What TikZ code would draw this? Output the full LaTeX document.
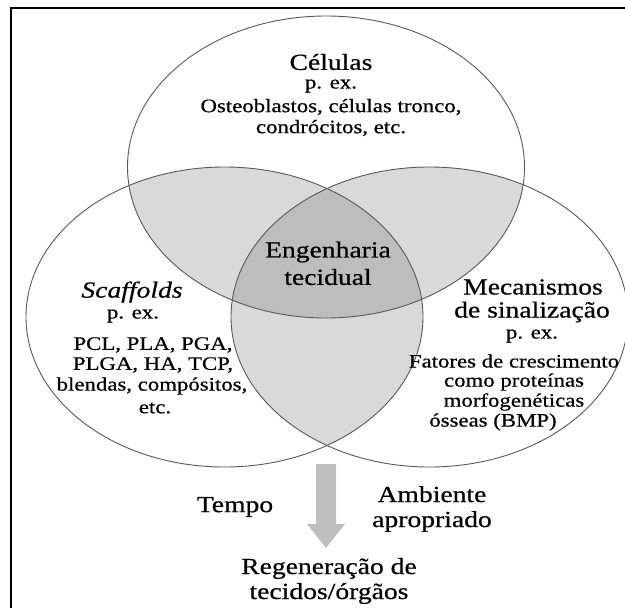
\documentclass[tikz,border=0pt]{standalone}
\usepackage{fontspec}
\setmainfont{Liberation Serif}[FakeStretch=1.2,FakeBold=0.6]
\begin{document}
\begin{tikzpicture}[x=1pt,y=-1pt,
  venn/.style={draw=black!65,line width=0.9pt},
  small/.style={font=\fontsize{19}{21}\selectfont,inner sep=0pt,align=center},
  big/.style={font=\fontsize{23}{25}\selectfont,inner sep=0pt,align=center},
  light/.style={fill=black!15},
  dark/.style={fill=black!26}]
\useasboundingbox (0,0) rectangle (625,608);
\fill[white] (0,0) rectangle (625,608);
% frame (top and left edges)
\draw[line width=1.5pt] (11,608) -- (11,8) -- (625,8);
% Venn fills
\begin{scope}
  \clip (326,167) ellipse [x radius=198.5, y radius=151];
  \fill[light] (224.5,317) ellipse [x radius=198.5, y radius=150];
  \fill[light] (429.5,317) ellipse [x radius=198.5, y radius=150];
\end{scope}
\begin{scope}
  \clip (224.5,317) ellipse [x radius=198.5, y radius=150];
  \fill[light] (429.5,317) ellipse [x radius=198.5, y radius=150];
\end{scope}
\begin{scope}
  \clip (326,167) ellipse [x radius=198.5, y radius=151];
  \clip (224.5,317) ellipse [x radius=198.5, y radius=150];
  \fill[dark] (429.5,317) ellipse [x radius=198.5, y radius=150];
\end{scope}
% Venn outlines
\draw[venn] (326,167) ellipse [x radius=198.5, y radius=151];
\draw[venn] (224.5,317) ellipse [x radius=198.5, y radius=150];
\draw[venn] (429.5,317) ellipse [x radius=198.5, y radius=150];
% top set
\node[big]   (cel)  at (331,62)  {Células};
\node[small] (cpex) at (331,86)  {p. ex.};
\node[small] (cl1)  at (331,107) {Osteoblastos, células tronco,};
\node[small] (cl2)  at (331,128) {condrócitos, etc.};
% centre
\node[big] (eng1) at (328,252) {Engenharia};
\node[big] (eng2) at (328,277) {tecidual};
% left set
\node[big]   (sca)  at (132,292) {\itshape Scaffolds};
\node[small] (spex) at (133,316) {p. ex.};
\node[small] (sl1)  at (153,345) {PCL, PLA, PGA,};
\node[small] (sl2)  at (153,365) {PLGA, HA, TCP,};
\node[small] (sl3)  at (152,386) {blendas, compósitos,};
\node[small] (sl4)  at (155,408) {etc.};
% right set
\node[big]   (mec1) at (533,287) {Mecanismos};
\node[big]   (mec2) at (532,312) {de sinalização};
\node[small] (mpex) at (532,336) {p. ex.};
\node[small] (ml1)  at (514,361) {Fatores de crescimento};
\node[small] (ml2)  at (514,382) {como proteínas};
\node[small] (ml3)  at (514,402) {morfogenéticas};
\node[small] (ml4)  at (493,422) {ósseas (BMP)};
% arrow
\fill[black!25] (316,464) -- (336,464) -- (336,524) -- (345,524) -- (326,548)
  -- (307,524) -- (316,524) -- cycle;
\node[big] (tempo) at (235,507) {Tempo};
\node[big] (amb)   at (432,509) {Ambiente\\apropriado};
\node[big] (reg)   at (329,581) {Regeneração de\\tecidos/órgãos};
\end{tikzpicture}
\end{document}
